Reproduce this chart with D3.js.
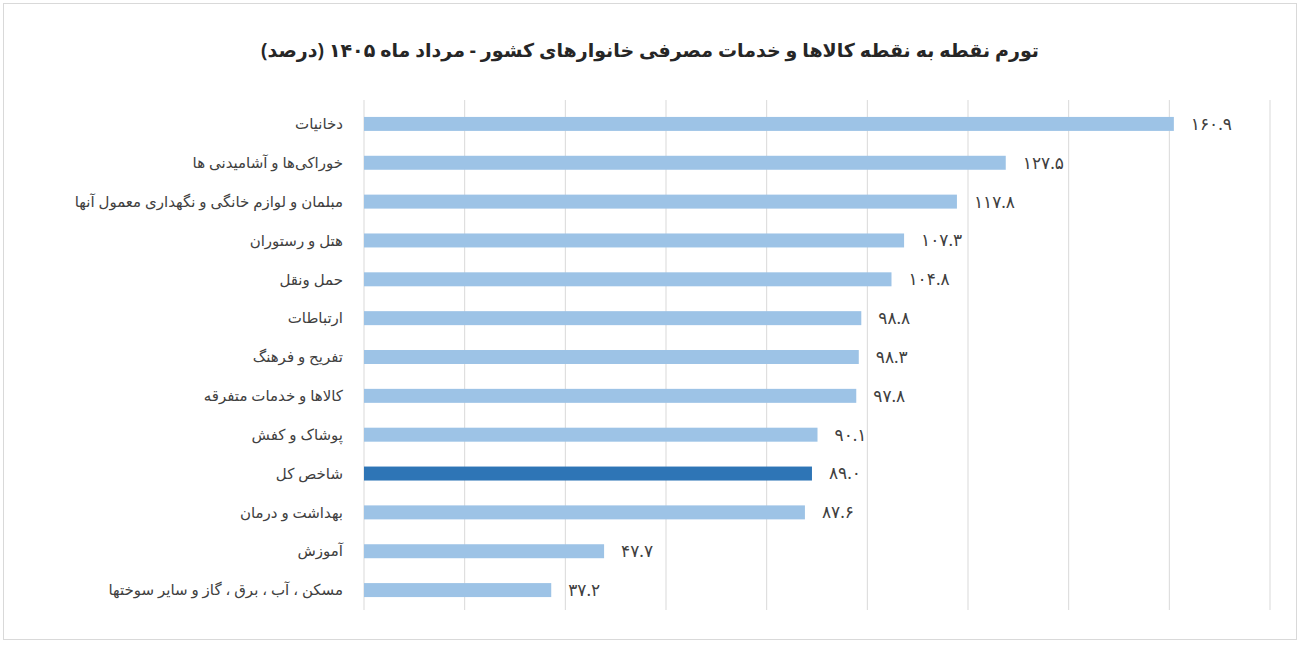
<!DOCTYPE html>
<html><head><meta charset="utf-8">
<script src="https://cdn.jsdelivr.net/npm/d3@7"></script>
<style>body{margin:0;background:#fff}svg{font-family:"Noto Sans","DejaVu Sans",sans-serif}</style>
</head><body><svg id="c" width="1300" height="648"></svg>
<script>
const categories=["دخانیات","خوراکی‌ها و آشامیدنی ها","مبلمان و لوازم خانگی و نگهداری معمول آنها","هتل و رستوران","حمل ونقل","ارتباطات","تفریح و فرهنگ","کالاها و خدمات متفرقه","پوشاک و کفش","شاخص کل","بهداشت و درمان","آموزش","مسکن ، آب ، برق ، گاز و سایر سوختها"];
const values=[160.9,127.5,117.8,107.3,104.8,98.8,98.3,97.8,90.1,89.0,87.6,47.7,37.2];
const highlight="شاخص کل";
const title="تورم نقطه به نقطه کالاها و خدمات مصرفی خانوارهای کشور - مرداد ماه ۱۴۰۵ (درصد)";
const svg=d3.select("#c");
svg.append("rect").attr("x",3.5).attr("y",3.5).attr("width",1293).attr("height",636).attr("fill","#fff").attr("stroke","#d9d9d9");
svg.append("text").attr("x",650).attr("y",57).attr("text-anchor","middle").attr("font-size",19).attr("font-weight","bold").attr("fill","#262626").text(title);
const x=d3.scaleLinear().domain([0,180]).range([364,1270]);
const y=d3.scaleBand().domain(categories).range([104.5,609.5]).paddingInner(0.64).paddingOuter(0.32);
svg.append("g").selectAll("line").data(d3.range(0,181,20)).join("line")
 .attr("x1",d=>x(d)).attr("x2",d=>x(d)).attr("y1",100).attr("y2",610).attr("stroke","#d9d9d9");
const fa=s=>s.replace(/\d/g,d=>"۰۱۲۳۴۵۶۷۸۹"[d]);
svg.append("g").selectAll("rect").data(categories).join("rect")
 .attr("x",x(0)).attr("y",d=>y(d)).attr("height",y.bandwidth()).attr("width",(d,i)=>x(values[i])-x(0))
 .attr("fill",d=>d===highlight?"#2e75b6":"#9dc3e6");
svg.append("g").selectAll("text").data(categories).join("text")
 .attr("x",343).attr("y",d=>y(d)+y.bandwidth()/2).attr("dy","0.35em").attr("text-anchor","start").attr("direction","rtl")
 .attr("font-size",15).attr("fill","#404040").text(d=>d);
svg.append("g").selectAll("text").data(categories).join("text")
 .attr("x",(d,i)=>x(values[i])+17).attr("y",d=>y(d)+y.bandwidth()/2).attr("dy","0.35em")
 .attr("font-size",17).attr("fill","#404040").text((d,i)=>fa(values[i].toFixed(1)));
</script></body></html>
